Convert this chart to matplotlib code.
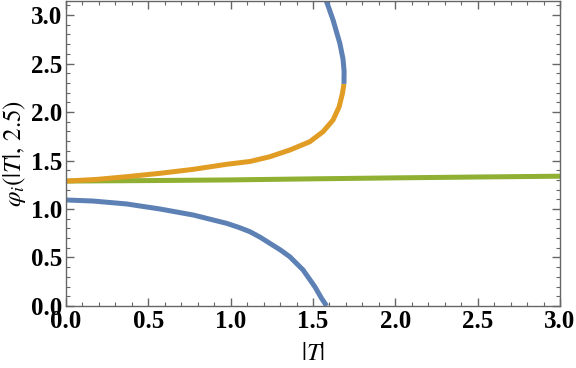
import numpy as np
import matplotlib.pyplot as plt
from matplotlib.ticker import MultipleLocator

plt.rcParams['mathtext.fontset'] = 'stix'

colors = {
    "blue": '#5E81B5',
    "orange": '#E19C24',
    "green": '#8FB032',
}

# lower blue branch
blue_lo_T = [0.0, 0.166, 0.368, 0.571, 0.773, 0.976, 1.05, 1.117, 1.178, 1.238, 1.3, 1.359,
             1.44, 1.511, 1.552, 1.583]
blue_lo_phi = [1.093, 1.082, 1.052, 1.0, 0.938, 0.852, 0.81, 0.766, 0.71, 0.646, 0.58, 0.508,
               0.371, 0.199, 0.079, 0.0]

# upper blue branch
blue_hi_T = [1.578, 1.622, 1.663, 1.682, 1.689, 1.688]
blue_hi_phi = [3.16, 2.948, 2.708, 2.55, 2.42, 2.29]

# orange branch
orange_T = [0.0, 0.186, 0.368, 0.571, 0.773, 0.976, 1.117, 1.238, 1.359, 1.481, 1.561,
            1.622, 1.659, 1.679, 1.688]
orange_phi = [1.288, 1.305, 1.333, 1.368, 1.409, 1.461, 1.49, 1.539, 1.608, 1.694, 1.797,
              1.918, 2.055, 2.193, 2.29]

# green branch
green_T = [0.0, 0.5, 1.0, 1.5, 2.0, 2.5, 3.0]
green_phi = [1.288, 1.293, 1.300, 1.311, 1.321, 1.330, 1.338]

fig = plt.figure(figsize=(5.76, 3.68), dpi=100)
ax = fig.add_axes([0.1146, 0.1685, 0.8576, 0.828])

lw = 3.6
kw = dict(lw=lw, solid_capstyle='butt', solid_joinstyle='round')
ax.plot(green_T, green_phi, color=colors['green'], **kw)
ax.plot(orange_T, orange_phi, color=colors['orange'], **kw)
ax.plot(blue_hi_T, blue_hi_phi, color=colors['blue'], **kw)
ax.plot(blue_lo_T, blue_lo_phi, color=colors['blue'], **kw)

ax.set_xlim(0, 3.0)
ax.set_ylim(0, np.pi)
ax.xaxis.set_major_locator(MultipleLocator(0.5))
ax.xaxis.set_minor_locator(MultipleLocator(0.1))
ax.yaxis.set_major_locator(MultipleLocator(0.5))
ax.yaxis.set_minor_locator(MultipleLocator(0.1))

frame_c = '#666666'
for s in ax.spines.values():
    s.set_color(frame_c)
    s.set_linewidth(1.0)
ax.tick_params(which='both', direction='in', top=True, right=True, color=frame_c)
ax.tick_params(which='major', length=6, width=1.0)
ax.tick_params(which='minor', length=3, width=0.8)
ax.tick_params(axis='x', pad=3)
ax.tick_params(axis='y', pad=3)

ax.xaxis.set_major_formatter(plt.FuncFormatter(lambda v, p: f'{v:.1f}'))
ax.yaxis.set_major_formatter(plt.FuncFormatter(lambda v, p: f'{v:.1f}'))
for lab in ax.get_xticklabels() + ax.get_yticklabels():
    lab.set_fontfamily('Liberation Serif')
    lab.set_fontweight('bold')
    lab.set_fontsize(18)

ax.set_xlabel(r'$|T|$', fontsize=18, labelpad=6)
ax.set_ylabel(r'$\varphi_i(|T|,\,\mathrm{2.5})$', fontsize=18, labelpad=2)

fig.savefig('out.png', dpi=100)
